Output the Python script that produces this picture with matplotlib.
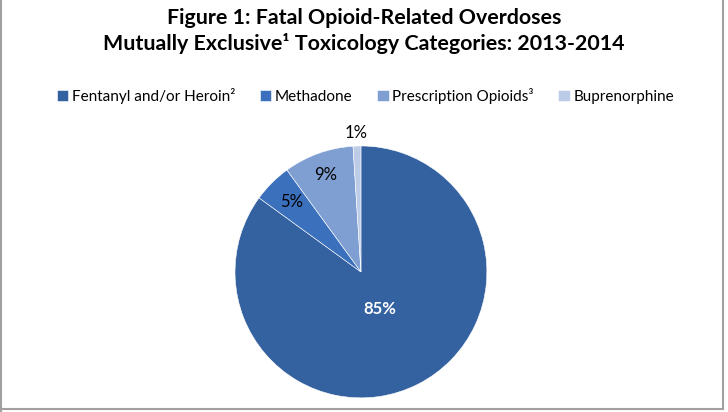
import matplotlib.pyplot as plt
import numpy as np

plt.rcParams['font.family'] = ['Lato', 'DejaVu Sans']

categories = ['Fentanyl and/or Heroin²', 'Methadone', 'Prescription Opioids³', 'Buprenorphine']
shares = [85, 5, 9, 1]
colors = ['#34619f', '#3b70bd', '#7f9fd3', '#bccbe6']
# how far from the centre each % label sits (fraction of radius)
label_dist = [0.33, 0.78, 0.82, 1.1]
label_colors = ['white', 'black', 'black', 'black']
label_weights = ['bold', 'normal', 'normal', 'normal']


def plot():
    fig = plt.figure(figsize=(7.28, 4.12), dpi=100)

    # chart border (left, right, bottom)
    fig.add_artist(plt.Line2D([0.002, 0.002], [0, 1], color='#a0a0a0', lw=1.5))
    fig.add_artist(plt.Line2D([0.993, 0.993], [0.008, 1], color='#a0a0a0', lw=1.5))
    fig.add_artist(plt.Line2D([0.002, 0.993], [0.008, 0.008], color='#a0a0a0', lw=1.5))

    fig.text(0.5, 0.957, 'Figure 1: Fatal Opioid-Related Overdoses',
             ha='center', va='center', fontsize=15.4, fontweight='bold')
    fig.text(0.5, 0.895, 'Mutually Exclusive¹ Toxicology Categories: 2013-2014',
             ha='center', va='center', fontsize=15.4, fontweight='bold')

    ax = fig.add_axes([0.3228, 0.034, 0.346, 0.612])
    wedges, _ = ax.pie(shares, colors=colors, startangle=90, counterclock=False,
                       wedgeprops=dict(edgecolor='white', linewidth=0.4))
    ax.set_xlim(-1, 1)
    ax.set_ylim(-1, 1)
    ax.set_aspect('equal')

    for w, v, d, c, fw in zip(wedges, shares, label_dist, label_colors, label_weights):
        mid = np.deg2rad((w.theta1 + w.theta2) / 2)
        ax.text(d * np.cos(mid), d * np.sin(mid), f'{v}%', ha='center', va='center',
                fontsize=12, color=c, fontweight=fw, clip_on=False)

    fig.legend(wedges, categories, loc='center', bbox_to_anchor=(0.502, 0.768), ncol=4,
               frameon=False, fontsize=11, handlelength=0.75, handleheight=0.75,
               handletextpad=0.25, columnspacing=1.6)

    fig.savefig('out.png', dpi=100)


def main():
    plot()

if __name__ == "__main__":
    main()
